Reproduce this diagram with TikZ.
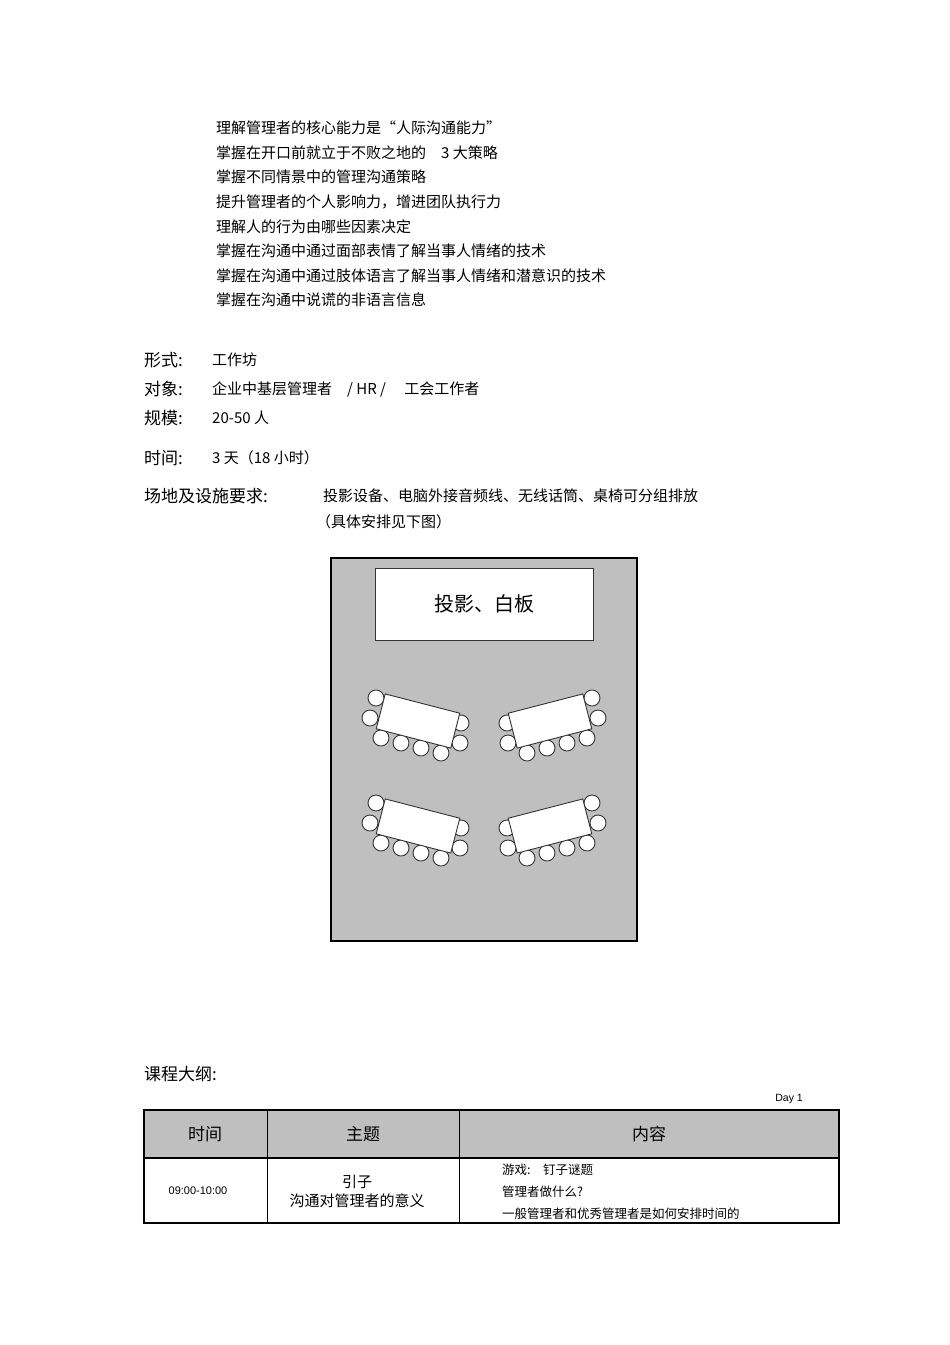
\documentclass[tikz,border=0pt]{standalone}
\usepackage{fontspec}
\setmainfont{Liberation Sans}
\newfontfamily\cjk{Noto Sans CJK SC}
\begin{document}
\begin{tikzpicture}[x=1pt,y=-1pt,
  txt/.style={anchor=west,inner sep=0pt,font=\cjk\fontsize{15}{18}\selectfont},
  big/.style={anchor=west,inner sep=0pt,font=\cjk\fontsize{17}{20}\selectfont},
  sm/.style={anchor=west,inner sep=0pt,font=\cjk\fontsize{12.5}{15}\selectfont},
  chair/.style={circle,draw=black!80,fill=white,line width=0.9pt,minimum size=16pt,inner sep=0pt},
  tbl/.style={draw=black!80,fill=white,line width=0.9pt,minimum width=77pt,minimum height=36pt,inner sep=0pt}]
\useasboundingbox (0,0) rectangle (950,1345);
\foreach \t [count=\i] in {理解管理者的核心能力是“人际沟通能力”,掌握在开口前就立于不败之地的\quad 3 大策略,掌握不同情景中的管理沟通策略,提升管理者的个人影响力，增进团队执行力,理解人的行为由哪些因素决定,掌握在沟通中通过面部表情了解当事人情绪的技术,掌握在沟通中通过肢体语言了解当事人情绪和潜意识的技术,掌握在沟通中说谎的非语言信息}
  \node[txt] (l\i) at (216,{128+(\i-1)*24.6}) {\t};
\node[big] (f1) at (144,360) {形式:};
\node[txt] (f1v) at (212,360) {工作坊};
\node[big] (f2) at (144,389) {对象:};
\node[txt] (f2v) at (212,389) {企业中基层管理者\quad/ HR /\quad\ 工会工作者};
\node[big] (f3) at (144,418) {规模:};
\node[txt] (f3v) at (212,418) {20-50 人};
\node[big] (f4) at (144,458) {时间:};
\node[txt] (f4v) at (212,458) {3 天（18 小时）};
\node[big] (f5) at (144,496) {场地及设施要求:};
\node[txt] (f5v) at (323,496) {投影设备、电脑外接音频线、无线话筒、桌椅可分组排放};
\node[txt] (f5w) at (316,522) {（具体安排见下图）};
% room
\draw[line width=2pt,fill=black!25] (331,558) rectangle (637,941);
\node[draw=black!80,fill=white,line width=0.8pt,minimum width=218pt,minimum height=72pt,font=\cjk\fontsize{20}{24}\selectfont] (scr) at (484,604) {投影、白板};
\foreach \dy in {0,105}{
 \begin{scope}[yshift=-\dy]
 \foreach \x/\y in {376/698,370/718,381/738,401/743,421/748,441/753,461/723,460/743}{
   \node[chair] at (\x,\y) {};
   \node[chair] at ({968-\x},\y) {};
 }
 \node[tbl,rotate=-14.5] (ta) at (418,721) {};
 \node[tbl,rotate=14.5] (tb) at (550,721) {};
 \end{scope}}
% outline
\node[big] (co) at (144,1074) {课程大纲:};
\node[anchor=east,inner sep=0pt,font=\fontsize{10.5}{12}\selectfont] (d1) at (803,1099) {Day 1};
\fill[black!25] (144,1110) rectangle (839,1158);
\draw[line width=1.4pt] (144,1110) rectangle (839,1223);
\draw[line width=1.2pt] (144,1158) -- (839,1158);
\draw[line width=1pt] (267,1110) -- (267,1223) (459,1110) -- (459,1223);
\node[font=\cjk\fontsize{17}{20}\selectfont] (h1) at (205,1134) {时间};
\node[font=\cjk\fontsize{17}{20}\selectfont] (h2) at (363,1134) {主题};
\node[font=\cjk\fontsize{17}{20}\selectfont] (h3) at (649,1134) {内容};
\node[font=\fontsize{11}{13}\selectfont] (c1) at (198,1191) {09:00-10:00};
\node[align=center,font=\cjk\fontsize{15}{19}\selectfont] (c2) at (357,1191) {引子\\沟通对管理者的意义};
\node[sm] (c3a) at (502,1170) {游戏:\quad 钉子谜题};
\node[sm] (c3b) at (502,1192) {管理者做什么?};
\node[sm] (c3c) at (502,1214) {一般管理者和优秀管理者是如何安排时间的};
\end{tikzpicture}
\end{document}
